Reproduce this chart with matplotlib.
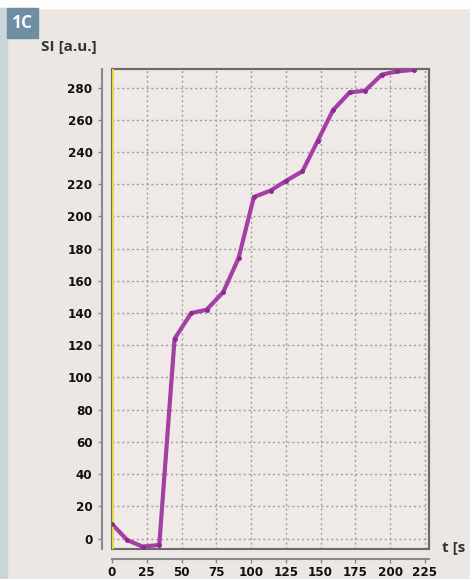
import matplotlib
matplotlib.use('Agg')
import matplotlib.pyplot as plt
from matplotlib.patches import Rectangle
from matplotlib import font_manager

# Datos de la curva (tiempo en s, señal en u.a.)
t_vals = [0, 11, 22, 34, 45, 57, 68, 80, 91, 102, 114, 125, 137, 148, 159, 171, 182, 194, 205, 217]
si_vals = [9, -1, -5, -4, 124, 140, 142, 153, 174, 212, 216, 222, 228, 247, 266, 277, 278, 288, 290, 291]
x_ticks = [0, 25, 50, 75, 100, 125, 150, 175, 200, 225]
y_ticks = list(range(0, 281, 20))

# fuente estrecha si existe
names = {f.name for f in font_manager.fontManager.ttflist}
narrow = [n for n in ['Liberation Sans Narrow', 'DejaVu Sans Condensed'] if n in names]
tick_family = narrow + ['DejaVu Sans']

bg = '#ede7e3'
W, H = 470, 579
fig = plt.figure(figsize=(W / 100, H / 100), dpi=100, facecolor=bg)

# franja superior blanca y lateral azulada
fig.patches.append(Rectangle((0, 1 - 8 / H), 1, 8 / H, transform=fig.transFigure, color='white', zorder=0))
fig.patches.append(Rectangle((0, 0), 7 / W, 1 - 8 / H, transform=fig.transFigure, color='#c9d4db', zorder=0))
fig.patches.append(Rectangle((7 / W, 1 - 38 / H), 31 / W, 30 / H, transform=fig.transFigure, color='#6f8ea3', zorder=1))
fig.text(22.5 / W, 1 - 23 / H, '1C', color='white', fontsize=12.5, fontweight='bold',
         family='Open Sans', ha='center', va='center')
fig.text(41 / W, 1 - 47 / H, 'SI [a.u.]', color='#333333', fontsize=11, fontweight='bold',
         family='Open Sans', ha='left', va='center')
fig.text(442 / W, 1 - 548 / H, 't [s', color='#333333', fontsize=11, fontweight='bold',
         family='Open Sans', ha='left', va='center')

ax = fig.add_axes([112 / W, 1 - 549 / H, (429 - 112) / W, (549 - 69) / H])
ax.set_facecolor('#efeae7')

ax.plot(t_vals, si_vals, color='#a43fa6', lw=3, solid_joinstyle='round', zorder=3)
ax.plot(t_vals, si_vals, 'o', color='#8a2c8c', ms=2.5, zorder=4)
ax.axvline(0, color='#e8dc2a', lw=2, zorder=3)

ax.set_xlim(0, 228)
ax.set_ylim(-6.5, 291.5)
ax.set_xticks(x_ticks)
ax.set_yticks(y_ticks)
ax.grid(True, color='#a0a0a0', lw=1, linestyle=(0, (1.5, 2)))
ax.set_axisbelow(True)

for s in ['top', 'right']:
    ax.spines[s].set_color('#6a6a6a')
    ax.spines[s].set_linewidth(1.5)
for s in ['left', 'bottom']:
    ax.spines[s].set_position(('outward', 7))
    ax.spines[s].set_color('#8a8a8a')
    ax.spines[s].set_linewidth(1.5)
ax.add_patch(Rectangle((0, 0), 1, 1, transform=ax.transAxes, fill=False,
                       edgecolor='#6a6a6a', lw=1.5, zorder=2, clip_on=False))

ax.tick_params(direction='out', length=3, width=1, color='#8a8a8a')
ax.tick_params(axis='x', pad=2)
ax.tick_params(axis='y', pad=4)
for lab in ax.get_xticklabels() + ax.get_yticklabels():
    lab.set_family(tick_family)
    lab.set_fontweight('bold')
    lab.set_fontstretch('condensed')
    lab.set_fontsize(10 if narrow else 9.5)
    lab.set_color('#111111')

fig.savefig('out.png', dpi=100, facecolor=bg)
